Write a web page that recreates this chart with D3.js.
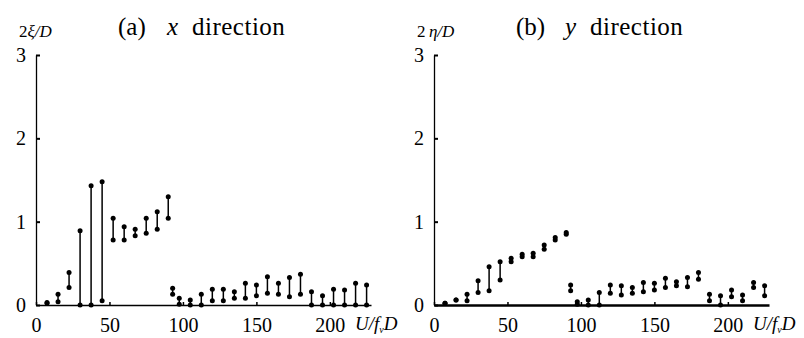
<!DOCTYPE html>
<html>
<head>
<meta charset="utf-8">
<script src="https://cdn.jsdelivr.net/npm/d3@7"></script>
<style>
  body { margin: 0; background: #fff; }
  svg text { font-family: "Liberation Serif", "Times New Roman", Times, "DejaVu Serif", serif !important; }
</style>
</head>
<body>
<svg id="chart" width="804" height="338"></svg>
<script>
// reduced velocity U/(f_v D)
const xValsA = [7.5, 15, 22.5, 30, 37.5, 45, 52.5, 60, 67.5, 75, 82.5, 90, 93, 97.5, 105,
  112.5, 120, 127.5, 135, 142.5, 150, 157.5, 165, 172.5, 180, 187.5, 195, 202.5, 210, 217.5, 225];
// (a) x direction, min / max of 2xi/D
const lowA  = [0.02, 0.04, 0.21, 0.0, 0.0, 0.05, 0.78, 0.78, 0.83, 0.86, 0.91, 1.04, 0.13, 0.01, 0.0,
  0.0, 0.05, 0.05, 0.08, 0.08, 0.11, 0.14, 0.13, 0.10, 0.13, 0.0, 0.0, 0.0, 0.0, 0.0, 0.0];
const highA = [0.03, 0.13, 0.39, 0.89, 1.43, 1.48, 1.04, 0.94, 0.91, 1.04, 1.12, 1.30, 0.20, 0.08, 0.06,
  0.13, 0.19, 0.19, 0.16, 0.26, 0.24, 0.34, 0.26, 0.33, 0.37, 0.16, 0.11, 0.19, 0.18, 0.26, 0.24];

const xValsB = [7.5, 15, 22.5, 30, 37.5, 45, 52.5, 60, 67.5, 75, 82.5, 90, 93, 97.5, 105,
  112.5, 120, 127.5, 135, 142.5, 150, 157.5, 165, 172.5, 180, 187.5, 195, 202.5, 210, 217.5, 225];
// (b) y direction, min / max of 2eta/D
const lowB  = [0.02, 0.06, 0.05, 0.15, 0.17, 0.30, 0.52, 0.58, 0.58, 0.67, 0.78, 0.85, 0.17, 0.01, 0.0,
  0.0, 0.14, 0.12, 0.14, 0.16, 0.18, 0.21, 0.23, 0.22, 0.31, 0.05, 0.0, 0.10, 0.05, 0.21, 0.11];
const highB = [0.02, 0.06, 0.13, 0.29, 0.46, 0.52, 0.56, 0.61, 0.62, 0.72, 0.81, 0.87, 0.24, 0.04, 0.06,
  0.15, 0.24, 0.23, 0.21, 0.27, 0.26, 0.32, 0.28, 0.33, 0.39, 0.13, 0.11, 0.18, 0.12, 0.27, 0.23];

const xTicks = [0, 50, 100, 150, 200];
const yTicks = [0, 1, 2, 3];

const svg = d3.select('#chart');

function drawPanel(opts) {
  const x = d3.scaleLinear().domain([0, 228]).range([opts.left, opts.left + 335]);
  const y = d3.scaleLinear().domain([0, 3]).range([305, 55]);
  const g = svg.append('g');

  // y axis
  const yAxis = g.append('g')
    .attr('transform', `translate(${opts.left},0)`)
    .call(d3.axisLeft(y).tickValues(yTicks).tickSize(-4).tickSizeOuter(0).tickPadding(10).tickFormat(d3.format('d')));
  yAxis.attr('font-family', null);
  yAxis.select('.domain').attr('stroke-width', 1.3);
  yAxis.selectAll('.tick line').attr('stroke-width', 2);
  yAxis.selectAll('.tick text').attr('font-size', 20);

  // x axis
  const xAxis = g.append('g')
    .attr('transform', 'translate(0,305)')
    .call(d3.axisBottom(x).tickValues(xTicks).tickSize(-3).tickSizeOuter(0).tickPadding(13));
  xAxis.attr('font-family', null);
  xAxis.select('.domain').attr('stroke-width', opts.xAxisWidth);
  xAxis.selectAll('.tick line').attr('stroke-width', 1.5);
  xAxis.selectAll('.tick text').attr('font-size', 20);

  const rows = opts.xs.map((v, i) => ({ x: v, lo: opts.lo[i], hi: opts.hi[i] }));

  g.selectAll('.range')
    .data(rows)
    .enter()
    .append('line')
    .attr('x1', d => x(d.x)).attr('x2', d => x(d.x))
    .attr('y1', d => y(d.lo)).attr('y2', d => y(d.hi))
    .attr('stroke', '#000')
    .attr('stroke-width', 1.5);

  g.selectAll('.lo')
    .data(rows)
    .enter()
    .append('circle')
    .attr('cx', d => x(d.x)).attr('cy', d => y(d.lo)).attr('r', 2.5).attr('fill', '#000');
  g.selectAll('.hi')
    .data(rows)
    .enter()
    .append('circle')
    .attr('cx', d => x(d.x)).attr('cy', d => y(d.hi)).attr('r', 2.5).attr('fill', '#000');

  // title, word positions taken from the figure
  const t = g.append('text').attr('y', 35).attr('font-size', 25);
  t.append('tspan').attr('x', opts.left + 82).text(opts.tag);
  t.append('tspan').attr('x', opts.left + 131).attr('font-style', 'italic').text(opts.dir);
  t.append('tspan').attr('x', opts.left + 156).attr('letter-spacing', 0.5).text('direction');

  // y label
  const yl = g.append('text')
    .attr('x', opts.left - 17).attr('y', 37)
    .attr('font-size', 17);
  yl.append('tspan').text(opts.two);
  yl.append('tspan').attr('font-style', 'italic').text(opts.sym + '/D');

  // x label U/f_v D
  const xl = g.append('text')
    .attr('x', x(0) + 319).attr('y', 330)
    .attr('font-size', 19)
    .attr('font-style', 'italic');
  xl.append('tspan').text('U/f');
  xl.append('tspan').attr('font-size', 10).attr('dy', 3).text('v');
  xl.append('tspan').attr('dy', -3).text('D');
}

drawPanel({ left: 36, xs: xValsA, lo: lowA, hi: highA, tag: '(a)', dir: 'x', two: '2', sym: '\u03be', xAxisWidth: 1.5 });
drawPanel({ left: 434, xs: xValsB, lo: lowB, hi: highB, tag: '(b)', dir: 'y', two: '2\u2009', sym: '\u03b7', xAxisWidth: 2.5 });
</script>
</body>
</html>
